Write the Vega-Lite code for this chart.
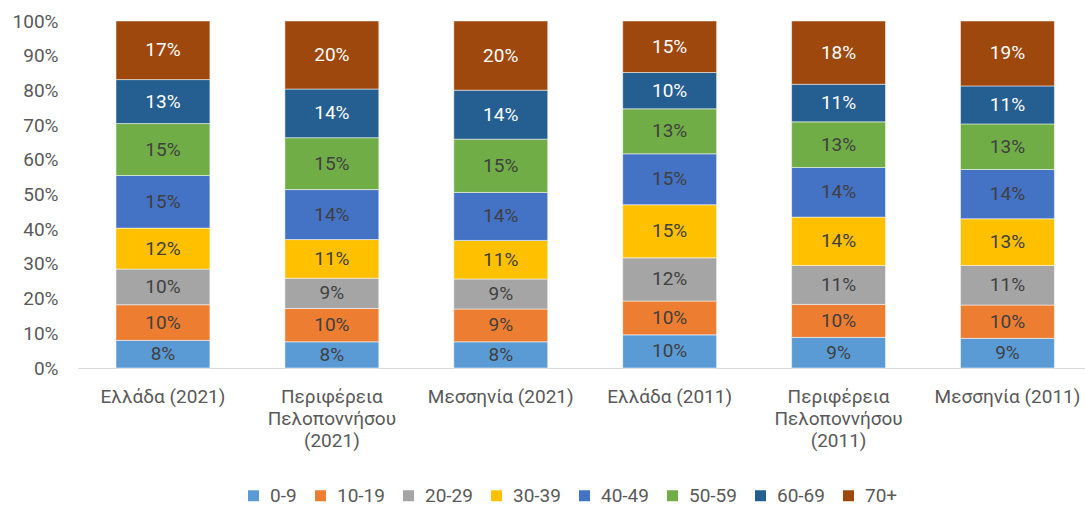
{
  "$schema": "https://vega.github.io/schema/vega-lite/v6.json",
  "autosize": "none",
  "width": 1007,
  "height": 347,
  "padding": {"left": 78, "top": 21, "right": 0, "bottom": 139},
  "background": "white",
  "config": {"view": {"stroke": null}, "font": "Roboto"},
  "data": {"values": [
    {"region": "Ελλάδα (2021)", "age": "0-9", "share": 0.0797},
    {"region": "Ελλάδα (2021)", "age": "10-19", "share": 0.1026},
    {"region": "Ελλάδα (2021)", "age": "20-29", "share": 0.1027},
    {"region": "Ελλάδα (2021)", "age": "30-39", "share": 0.1181},
    {"region": "Ελλάδα (2021)", "age": "40-49", "share": 0.1516},
    {"region": "Ελλάδα (2021)", "age": "50-59", "share": 0.1497},
    {"region": "Ελλάδα (2021)", "age": "60-69", "share": 0.1267},
    {"region": "Ελλάδα (2021)", "age": "70+", "share": 0.1689},
    {"region": "Περιφέρεια Πελοποννήσου (2021)", "age": "0-9", "share": 0.0755},
    {"region": "Περιφέρεια Πελοποννήσου (2021)", "age": "10-19", "share": 0.0960},
    {"region": "Περιφέρεια Πελοποννήσου (2021)", "age": "20-29", "share": 0.0873},
    {"region": "Περιφέρεια Πελοποννήσου (2021)", "age": "30-39", "share": 0.1113},
    {"region": "Περιφέρεια Πελοποννήσου (2021)", "age": "40-49", "share": 0.1440},
    {"region": "Περιφέρεια Πελοποννήσου (2021)", "age": "50-59", "share": 0.1497},
    {"region": "Περιφέρεια Πελοποννήσου (2021)", "age": "60-69", "share": 0.1401},
    {"region": "Περιφέρεια Πελοποννήσου (2021)", "age": "70+", "share": 0.1961},
    {"region": "Μεσσηνία (2021)", "age": "0-9", "share": 0.0755},
    {"region": "Μεσσηνία (2021)", "age": "10-19", "share": 0.0945},
    {"region": "Μεσσηνία (2021)", "age": "20-29", "share": 0.0864},
    {"region": "Μεσσηνία (2021)", "age": "30-39", "share": 0.1113},
    {"region": "Μεσσηνία (2021)", "age": "40-49", "share": 0.1382},
    {"region": "Μεσσηνία (2021)", "age": "50-59", "share": 0.1536},
    {"region": "Μεσσηνία (2021)", "age": "60-69", "share": 0.1411},
    {"region": "Μεσσηνία (2021)", "age": "70+", "share": 0.1994},
    {"region": "Ελλάδα (2011)", "age": "0-9", "share": 0.0955},
    {"region": "Ελλάδα (2011)", "age": "10-19", "share": 0.0975},
    {"region": "Ελλάδα (2011)", "age": "20-29", "share": 0.1245},
    {"region": "Ελλάδα (2011)", "age": "30-39", "share": 0.1530},
    {"region": "Ελλάδα (2011)", "age": "40-49", "share": 0.1468},
    {"region": "Ελλάδα (2011)", "age": "50-59", "share": 0.1296},
    {"region": "Ελλάδα (2011)", "age": "60-69", "share": 0.1046},
    {"region": "Ελλάδα (2011)", "age": "70+", "share": 0.1485},
    {"region": "Περιφέρεια Πελοποννήσου (2011)", "age": "0-9", "share": 0.0883},
    {"region": "Περιφέρεια Πελοποννήσου (2011)", "age": "10-19", "share": 0.0950},
    {"region": "Περιφέρεια Πελοποννήσου (2011)", "age": "20-29", "share": 0.1123},
    {"region": "Περιφέρεια Πελοποννήσου (2011)", "age": "30-39", "share": 0.1392},
    {"region": "Περιφέρεια Πελοποννήσου (2011)", "age": "40-49", "share": 0.1430},
    {"region": "Περιφέρεια Πελοποννήσου (2011)", "age": "50-59", "share": 0.1315},
    {"region": "Περιφέρεια Πελοποννήσου (2011)", "age": "60-69", "share": 0.1084},
    {"region": "Περιφέρεια Πελοποννήσου (2011)", "age": "70+", "share": 0.1823},
    {"region": "Μεσσηνία (2011)", "age": "0-9", "share": 0.0854},
    {"region": "Μεσσηνία (2011)", "age": "10-19", "share": 0.0960},
    {"region": "Μεσσηνία (2011)", "age": "20-29", "share": 0.1142},
    {"region": "Μεσσηνία (2011)", "age": "30-39", "share": 0.1344},
    {"region": "Μεσσηνία (2011)", "age": "40-49", "share": 0.1420},
    {"region": "Μεσσηνία (2011)", "age": "50-59", "share": 0.1315},
    {"region": "Μεσσηνία (2011)", "age": "60-69", "share": 0.1094},
    {"region": "Μεσσηνία (2011)", "age": "70+", "share": 0.1871}
  ]},
  "transform": [
    {"stack": "share", "groupby": ["region"], "sort": [{"field": "age", "order": "ascending"}], "as": ["lo", "hi"]},
    {"calculate": "(datum.lo + datum.hi) / 2", "as": "mid"}
  ],
  "encoding": {
    "x": {
      "field": "region",
      "type": "nominal",
      "sort": ["Ελλάδα (2021)", "Περιφέρεια Πελοποννήσου (2021)", "Μεσσηνία (2021)", "Ελλάδα (2011)", "Περιφέρεια Πελοποννήσου (2011)", "Μεσσηνία (2011)"],
      "scale": {"paddingInner": 0.444, "paddingOuter": 0.203, "align": 0.554},
      "axis": {
        "title": null,
        "labelAngle": 0,
        "labelExpr": "indexof(datum.label, 'Περιφέρεια') == 0 ? split(datum.label, ' ') : datum.label",
        "labelFontSize": 19,
        "labelColor": "#595959",
        "labelLineHeight": 22,
        "labelPadding": 19,
        "ticks": false,
        "domainColor": "#d9d9d9",
        "domainWidth": 1,
        "grid": false
      }
    }
  },
  "layer": [
    {
      "mark": {"type": "bar", "stroke": "#ffffff", "strokeWidth": 0.5},
      "encoding": {
        "y": {
          "field": "lo",
          "type": "quantitative",
          "scale": {"domain": [0, 1]},
          "axis": {
            "title": null,
            "format": ".0%",
            "values": [0, 0.1, 0.2, 0.3, 0.4, 0.5, 0.6, 0.7, 0.8, 0.9, 1],
            "labelOverlap": false,
            "labelFontSize": 19,
            "labelColor": "#595959",
            "labelPadding": 20,
            "ticks": false,
            "domain": false,
            "grid": false
          }
        },
        "y2": {"field": "hi"},
        "color": {
          "field": "age",
          "type": "nominal",
          "sort": ["0-9", "10-19", "20-29", "30-39", "40-49", "50-59", "60-69", "70+"],
          "scale": {
            "domain": ["0-9", "10-19", "20-29", "30-39", "40-49", "50-59", "60-69", "70+"],
            "range": ["#5B9BD5", "#ED7D31", "#A5A5A5", "#FFC000", "#4472C4", "#70AD47", "#255E91", "#9E480E"]
          },
          "legend": {
            "title": null,
            "orient": "none",
            "direction": "horizontal",
            "legendX": 166,
            "legendY": 465,
            "symbolType": "square",
            "symbolSize": 121,
            "symbolStrokeWidth": 0,
            "labelFontSize": 19,
            "labelColor": "#595959",
            "labelOffset": 7,
            "columnPadding": 14
          }
        }
      }
    },
    {
      "mark": {"type": "text", "fontSize": 19, "baseline": "middle", "align": "center"},
      "encoding": {
        "y": {
          "field": "mid",
          "type": "quantitative",
          "axis": {
            "title": null,
            "format": ".0%",
            "values": [0, 0.1, 0.2, 0.3, 0.4, 0.5, 0.6, 0.7, 0.8, 0.9, 1],
            "labelOverlap": false,
            "labelFontSize": 19,
            "labelColor": "#595959",
            "labelPadding": 20,
            "ticks": false,
            "domain": false,
            "grid": false
          }
        },
        "text": {"field": "share", "type": "quantitative", "format": ".0%"},
        "color": {
          "condition": {"test": "datum.age == '60-69' || datum.age == '70+'", "value": "#ffffff"},
          "value": "#404040"
        }
      }
    }
  ]
}
